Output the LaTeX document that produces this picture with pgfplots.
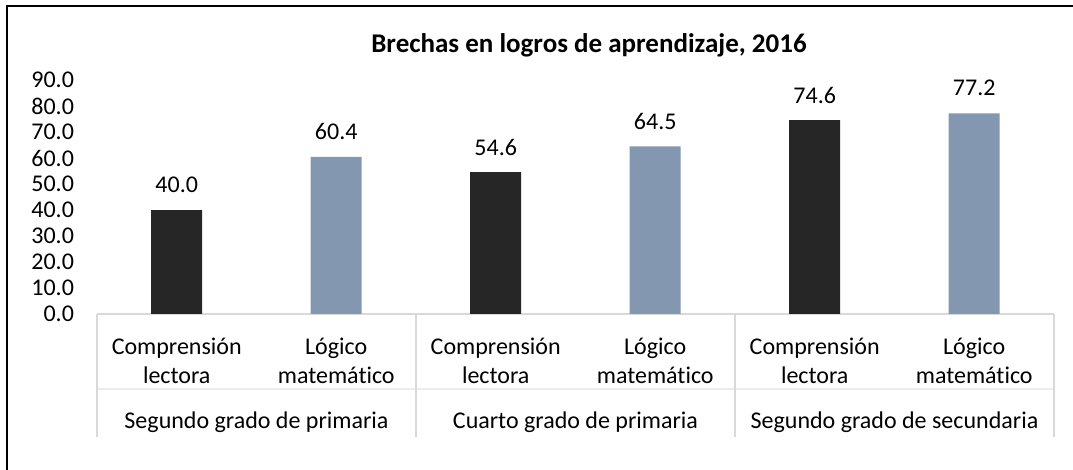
\documentclass[border=0pt]{standalone}
\usepackage{fontspec}
\setmainfont{Carlito}[Ligatures=NoCommon]
\usepackage{pgfplots}
\pgfplotsset{compat=1.18}
\definecolor{barDark}{HTML}{262626}
\definecolor{barBlue}{HTML}{8497B0}
\definecolor{sepGray}{HTML}{D9D9D9}

\pgfplotstableread{
x   y
0.5 40.0
2.5 54.6
4.5 74.6
}\lectora
\pgfplotstableread{
x   y
1.5 60.4
3.5 64.5
5.5 77.2
}\matematico

\newcommand{\lbl}{\fontsize{12}{14.5}\selectfont}

\begin{document}
\begin{tikzpicture}[x=1pt,y=1pt]
\useasboundingbox (0,0) rectangle (536.5,235);
% frame of the chart area
\draw[line width=1pt,black] (3.5,0) -- (3.5,232) -- (536.5,232);
\node[font=\fontsize{13.5}{15}\selectfont\bfseries] at (294.5,212.5) {Brechas en logros de aprendizaje, 2016};
\begin{axis}[
  at={(48.5pt,78pt)}, anchor=origin,
  scale only axis,
  width=478.5pt, height=117pt,
  xmin=0, xmax=6, ymin=0, ymax=90,
  ybar, bar width=25.5pt, bar shift=0pt,
  axis x line*=bottom, axis y line*=left,
  x axis line style={sepGray,line width=0.8pt,-},
  y axis line style={draw=none},
  xtick=\empty,
  ytick={0,10,...,90},
  major tick length=0pt,
  yticklabel style={anchor=east,xshift=-8pt,font=\lbl},
  /pgf/number format/.cd, fixed, fixed zerofill, precision=1, assume math mode=true,
  /pgfplots/.cd,
  nodes near coords,
  every node near coord/.append style={anchor=center,yshift=12.5pt,font=\lbl,black},
  clip=false,
]
\addplot[fill=barDark,draw=none] table[x=x,y=y] {\lectora};
\addplot[fill=barBlue,draw=none] table[x=x,y=y] {\matematico};
% multi-level category axis
\draw[sepGray!50,line width=0.6pt] (axis cs:0,0) ++(0,-37.5pt) -- ++(478.5pt,0);
\pgfplotsinvokeforeach{0,2,4,6}{
  \draw[sepGray,line width=0.8pt] (axis cs:#1,0) -- ++(0,-61.5pt);
}
\pgfplotsinvokeforeach{0.5,2.5,4.5}{
  \node[align=center,font=\lbl] at (axis cs:#1,0) [yshift=-23.2pt] {Comprensión\\lectora};
}
\pgfplotsinvokeforeach{1.5,3.5,5.5}{
  \node[align=center,font=\lbl] at (axis cs:#1,0) [yshift=-23.2pt] {Lógico\\matemático};
}
\node[font=\lbl] at (axis cs:1,0) [yshift=-53.9pt] {Segundo grado de primaria};
\node[font=\lbl] at (axis cs:3,0) [yshift=-53.9pt] {Cuarto grado de primaria};
\node[font=\lbl] at (axis cs:5,0) [yshift=-53.9pt] {Segundo grado de secundaria};
\end{axis}
\end{tikzpicture}
\end{document}
